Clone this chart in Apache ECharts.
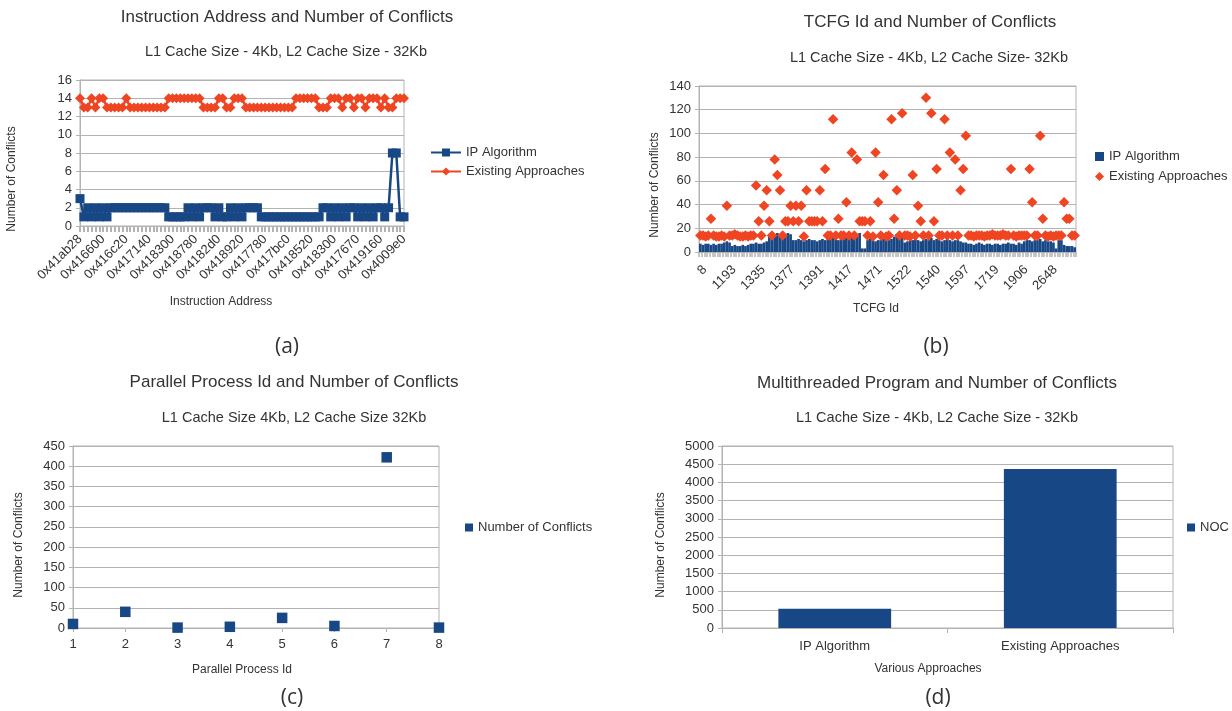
<!DOCTYPE html>
<html><head><meta charset="utf-8">
<script src="https://cdn.jsdelivr.net/npm/echarts@6/dist/echarts.min.js"></script>
<style>html,body{margin:0;padding:0;background:#fff}#c{width:1232px;height:711px}</style>
</head><body><div id="c"></div>
<script>
// ---------- (a) Instruction Address ----------
const aTickLabels = ['0x41ab28','0x416600','0x416c20','0x417140','0x418300','0x418780','0x4182d0','0x418920','0x417780','0x417bc0','0x418520','0x418300','0x417670','0x419160','0x4009e0'];
const aIP = [3,
 1,2,1,2,1,2,1,
 2,2,2,2,2,2,2,2,2,2,2,2,2,2,2,
 1,1,1,1,1,
 2,1,2,1,2,
 2,2,
 1,2,1,1,
 2,
 1,2,1,
 2,2,2,2,
 1,1,1,1,1,1,1,1,1,1,1,1,1,1,1,1,
 2,2,1,2,
 1,
 2,1,2,2,1,2,1,2,1,2,2,1,2,
 8,8,
 1,1];
const aExisting = [14,13,13,14,13,14,14,13,13,13,13,13,14,
 13,13,13,13,13,13,13,13,13,13,
 14,14,14,14,14,14,14,14,14,
 13,13,13,13,
 14,14,
 13,13,
 14,14,14,
 13,13,13,13,13,13,13,13,13,13,13,13,13,
 14,14,14,14,14,14,
 13,13,13,
 14,14,14,13,14,14,13,14,14,13,14,14,14,13,14,13,13,14,14,14];

// ---------- (b) TCFG Id ----------
const bTickLabels = ['8','1193','1335','1377','1391','1417','1471','1522','1540','1597','1719','1906','2648'];
const bIP = [
 7,6,7,7,6,7,6,7,7,8,
 9,8,5,6,5,5,6,5,6,7,
 7,8,7,7,8,9,15,16,15,16,
 14,16,15,16,15,10,10,11,10,9,
 10,11,10,10,9,10,11,10,11,12,
 12,11,10,12,11,14,15,16,14,15,
 16,3,3,10,11,10,9,10,10,11,
 12,10,11,13,15,17,16,8,9,10,
 10,11,10,9,10,11,10,12,10,11,
 10,9,10,11,10,9,10,10,9,8,
 8,7,7,6,7,8,7,6,7,7,
 6,7,7,6,7,7,8,7,7,6,
 8,7,9,10,10,9,10,10,11,9,
 10,9,9,8,3,10,10,6,5,5,
 5,4];
const bExisting = [
 14,14,13,14,28,14,13,13,14,13,
 39,14,14,15,14,13,13,14,13,14,
 14,56,26,14,39,52,26,14,78,65,
 52,14,26,26,39,26,39,26,39,13,
 52,26,26,26,26,52,26,70,14,14,
 112,14,28,14,14,42,14,84,14,78,
 26,26,26,14,26,13,84,42,14,65,
 13,14,112,28,52,14,117,14,14,13,
 65,14,39,26,14,130,14,117,26,70,
 14,14,112,14,84,14,78,14,52,70,
 98,14,14,13,14,14,14,13,14,14,
 15,14,14,14,15,14,14,70,14,13,
 14,14,14,14,70,42,14,14,98,28,
 14,13,14,13,14,14,14,42,28,28,
 14,14];

// ---------- (c) Parallel Process Id ----------
const cIds = [1,2,3,4,5,6,7,8];
const cConflicts = [10,40,1,3,25,5,422,1];

// ---------- (d) Multithreaded Program ----------
const dCats = ['IP Algorithm','Existing Approaches'];
const dNOC = [530,4370];

// label every n-th category
const aStep = 6, bStep = 11;
const aCats = aIP.map(() => '');
aTickLabels.forEach((l, k) => { aCats[k * aStep] = l; });
const bCats = bIP.map(() => '');
bTickLabels.forEach((l, k) => { bCats[k * bStep] = l; });

const FONT = '"Liberation Sans", Arial, sans-serif';
const TXT = '#333333';
const GRIDC = '#b3b3b3';
const BLUE = '#174784';
const RED = '#f04522';

function t(x, y, s, size, rot, fam) {
  return {type:'text', x:x, y:y, rotation: rot || 0, silent:true,
    style:{text:s, fontSize:size, fontFamily: fam || FONT, fill:TXT, align:'center', verticalAlign:'middle'}};
}
const R = Math.PI / 2;
const lbl = {fontSize:13, color:TXT, fontFamily:FONT};
function yAx(gi, max, iv) {
  return {gridIndex:gi, type:'value', min:0, max:max, interval:iv,
    axisLine:{show:true, lineStyle:{color:GRIDC}},
    axisTick:{show:true, length:4, lineStyle:{color:GRIDC}},
    axisLabel:Object.assign({margin:8, formatter: v => String(v)}, lbl),
    splitLine:{show:true, lineStyle:{color:GRIDC, width:1}}};
}
const gridBase = {show:true, borderColor:GRIDC, borderWidth:1, backgroundColor:'transparent'};

const option = {
  animation:false,
  textStyle:{fontFamily:FONT},
  grid:[
    Object.assign({left:80, top:80, width:324, height:146}, gridBase),
    Object.assign({left:699, top:86, width:377, height:166}, gridBase),
    Object.assign({left:73, top:446, width:366, height:182}, gridBase),
    Object.assign({left:722, top:446, width:451, height:182}, gridBase)
  ],
  xAxis:[
    {gridIndex:0, type:'category', data:aCats, boundaryGap:false,
     axisLine:{show:true, lineStyle:{color:GRIDC}},
     axisTick:{show:true, interval:0, length:6, lineStyle:{color:GRIDC, width:2}},
     axisLabel:Object.assign({interval:aStep-1, rotate:45, margin:11}, lbl),
     splitLine:{show:false}},
    {gridIndex:1, type:'category', data:bCats, boundaryGap:true,
     axisLine:{show:true, lineStyle:{color:GRIDC}},
     axisTick:{show:true, interval:0, length:5, lineStyle:{color:GRIDC, width:1.5}},
     axisLabel:Object.assign({interval:bStep-1, rotate:45, margin:11, verticalAlign:'top'}, lbl),
     splitLine:{show:false}},
    {gridIndex:2, type:'value', min:1, max:8, interval:1,
     axisLine:{show:true, lineStyle:{color:GRIDC}},
     axisTick:{show:true, length:4, lineStyle:{color:GRIDC}},
     axisLabel:Object.assign({margin:10}, lbl),
     splitLine:{show:false}},
    {gridIndex:3, type:'category', data:dCats,
     axisLine:{show:true, lineStyle:{color:GRIDC}},
     axisTick:{show:true, length:5, lineStyle:{color:GRIDC}},
     axisLabel:Object.assign({margin:12}, lbl),
     splitLine:{show:false}}
  ],
  yAxis:[ yAx(0,16,2), yAx(1,140,20), yAx(2,450,50), yAx(3,5000,500) ],
  legend:[
    {left:425, top:141, orient:'vertical', itemWidth:30, itemHeight:10, itemGap:6, selectedMode:false,
     textStyle:{fontSize:13, color:TXT, fontFamily:FONT}, data:['IP Algorithm','Existing Approaches']},
    {left:1090, top:145, orient:'vertical', itemWidth:9, itemHeight:9, itemGap:7, selectedMode:false,
     textStyle:{fontSize:13, color:TXT, fontFamily:FONT},
     data:[{name:'IP Algorithm', icon:'rect'}, {name:'Existing Approaches', icon:'diamond'}]},
    {left:460, top:516, itemWidth:8, itemHeight:8, selectedMode:false, icon:'rect',
     textStyle:{fontSize:13, color:TXT, fontFamily:FONT}, data:['Number of Conflicts']},
    {left:1182, top:516, itemWidth:8, itemHeight:8, selectedMode:false, icon:'rect',
     textStyle:{fontSize:13, color:TXT, fontFamily:FONT}, data:['NOC']}
  ],
  series:[
    {name:'IP Algorithm', type:'line', xAxisIndex:0, yAxisIndex:0, data:aIP,
     symbol:'rect', symbolSize:9, showAllSymbol:true,
     lineStyle:{color:BLUE, width:2.5}, itemStyle:{color:BLUE, borderWidth:0}},
    {name:'Existing Approaches', type:'line', xAxisIndex:0, yAxisIndex:0, data:aExisting,
     symbol:'diamond', symbolSize:10, showAllSymbol:true,
     lineStyle:{color:RED, width:2.5}, itemStyle:{color:RED, borderWidth:0}},
    {name:'IP Algorithm', type:'bar', xAxisIndex:1, yAxisIndex:1, data:bIP,
     barCategoryGap:'0%', itemStyle:{color:BLUE}},
    {name:'Existing Approaches', type:'line', xAxisIndex:1, yAxisIndex:1, data:bExisting,
     symbol:'diamond', symbolSize:10.5, showAllSymbol:true, z:5,
     lineStyle:{width:0, opacity:0}, itemStyle:{color:RED, borderWidth:0}},
    {name:'Number of Conflicts', type:'scatter', xAxisIndex:2, yAxisIndex:2,
     data:cIds.map((id, i) => [id, cConflicts[i]]),
     symbol:'rect', symbolSize:10.5, itemStyle:{color:BLUE, opacity:1}},
    {name:'NOC', type:'bar', xAxisIndex:3, yAxisIndex:3, data:dNOC,
     barWidth:'50%', itemStyle:{color:BLUE}}
  ],
  graphic:[
    t(287, 17, 'Instruction Address and Number of Conflicts', 17),
    t(286, 52, 'L1 Cache Size - 4Kb, L2 Cache Size - 32Kb', 14.5),
    t(12, 179, 'Number of Conflicts', 12, R),
    t(221, 302, 'Instruction Address', 12),
    t(287, 347, '(a)', 21, 0, '"Open Sans", sans-serif'),

    t(930, 22, 'TCFG Id and Number of Conflicts', 17),
    t(929, 58, 'L1 Cache Size - 4Kb, L2 Cache Size- 32Kb', 14.5),
    t(655, 185, 'Number of Conflicts', 12, R),
    t(876, 309, 'TCFG Id', 12),
    t(936, 347, '(b)', 21, 0, '"Open Sans", sans-serif'),

    t(294, 382, 'Parallel Process Id and Number of Conflicts', 17),
    t(294, 418, 'L1 Cache Size 4Kb, L2 Cache Size 32Kb', 14.5),
    t(19, 545, 'Number of Conflicts', 12, R),
    t(242, 670, 'Parallel Process Id', 12),
    t(292, 698, '(c)', 21, 0, '"Open Sans", sans-serif'),

    t(937, 383, 'Multithreaded Program and Number of Conflicts', 17),
    t(937, 418, 'L1 Cache Size - 4Kb, L2 Cache Size - 32Kb', 14.5),
    t(661, 545, 'Number of Conflicts', 12, R),
    t(928, 669, 'Various Approaches', 12),
    t(938, 698, '(d)', 21, 0, '"Open Sans", sans-serif')
  ]
};
const chart = echarts.init(document.getElementById('c'), null, {renderer:'canvas'});
chart.setOption(option);
</script></body></html>
